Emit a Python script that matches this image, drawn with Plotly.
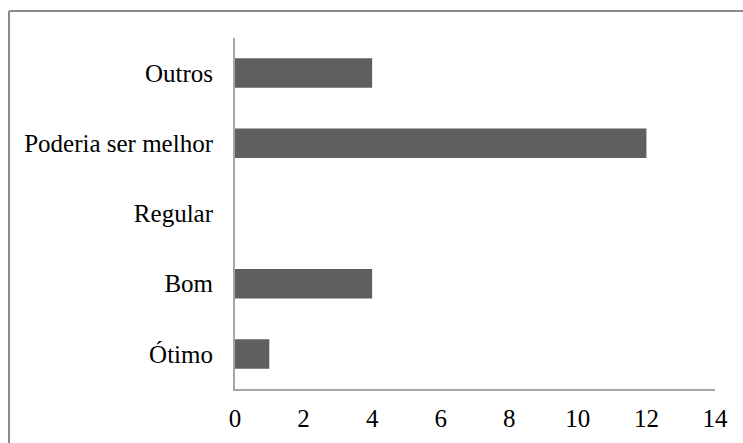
import plotly.graph_objects as go

categories = ["Ótimo", "Bom", "Regular", "Poderia ser melhor", "Outros"]
values = [1, 4, 0, 12, 4]
tick_vals = [0, 2, 4, 6, 8, 10, 12, 14]

W, H = 743, 443
L, R, T, B = 235, 28, 38, 54
pw, ph = W - L - R, H - T - B

fig = go.Figure(go.Bar(
    x=values, y=categories, orientation="h",
    marker=dict(color="#5f5f5f", line=dict(width=0)),
    width=0.42,
))

font = dict(family="'Liberation Serif', 'Times New Roman', Times, 'DejaVu Serif', serif", size=25, color="#000000")

fig.update_layout(
    width=W, height=H,
    margin=dict(l=L, r=R, t=T, b=B, pad=0, autoexpand=False),
    paper_bgcolor="white", plot_bgcolor="white",
    showlegend=False,
    font=font,
    xaxis=dict(range=[0, 14], tickvals=tick_vals, showgrid=False, zeroline=False,
               showline=True, linecolor="#a6a6a6", linewidth=2, ticks="",
               ticklabelstandoff=6, tickfont=font, fixedrange=True, automargin=False),
    yaxis=dict(categoryorder="array", categoryarray=categories, showgrid=False,
               zeroline=False, showline=True, linecolor="#a6a6a6", linewidth=2,
               ticks="", ticklabelstandoff=15, tickfont=font, fixedrange=True, automargin=False),
)

# outer border (top and left edges visible)
bx0 = (9 - L) / pw
by1 = (H - B - 11) / ph
fig.add_shape(type="line", xref="paper", yref="paper", x0=bx0, x1=1.2, y0=by1, y1=by1,
              line=dict(color="#8c8c8c", width=2))
fig.add_shape(type="line", xref="paper", yref="paper", x0=bx0, x1=bx0, y0=by1, y1=-0.3,
              line=dict(color="#8c8c8c", width=2))

fig.write_html("out.html")
